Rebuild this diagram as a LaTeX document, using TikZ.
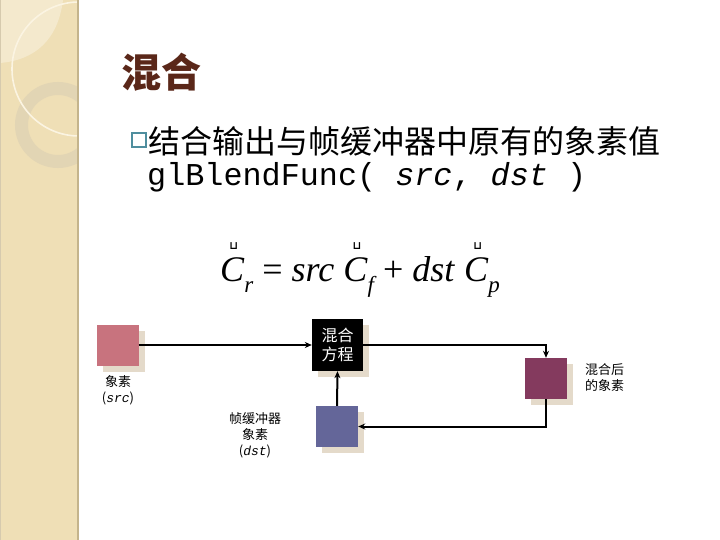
\documentclass[tikz,border=0pt]{standalone}
\usepackage{fontspec}
\setmainfont{Liberation Serif}
\setmonofont{Liberation Mono}
\newfontfamily\cjk{Noto Sans CJK SC}
\newfontfamily\symfam{DejaVu Sans}
\usetikzlibrary{arrows.meta,positioning,shadows}
\definecolor{bandtan}{HTML}{EFDFB6}
\definecolor{bandlight}{HTML}{F4E9CD}
\definecolor{bandedge}{HTML}{C4B48C}
\definecolor{ringtan}{HTML}{E2D5B4}
\definecolor{arcwhite}{HTML}{FBF4E2}
\definecolor{titlebrown}{HTML}{5A2719}
\definecolor{bullteal}{HTML}{4F8E9E}
\definecolor{srcpink}{HTML}{C8737E}
\definecolor{respurple}{HTML}{843A5E}
\definecolor{dstblue}{HTML}{646699}
\definecolor{shadebeige}{HTML}{E4DACA}
% vektor-C med liten krok
\newcommand\vc[1]{\leavevmode\rlap{\hspace{0.26em}\raisebox{0.9em}{\symfam\bfseries\fontsize{11}{11}\selectfont ⊔}}\textit{#1}}
\newcommand\sub[1]{\raisebox{-0.32em}{\fontsize{23}{23}\selectfont\itshape #1}}
\tikzset{
  >={Stealth[length=7pt,width=6pt]},
  % rutor
  pix/.style={minimum width=42pt,minimum height=41pt,inner sep=0pt,
    drop shadow={shadow xshift=6pt,shadow yshift=-6pt,fill=shadebeige,opacity=1}},
  lab/.style={font=\cjk\fontsize{13}{16}\selectfont,align=center,inner sep=0pt},
  flow/.style={->,draw=black,line width=2pt},
}
\begin{document}
\begin{tikzpicture}[x=1pt,y=-1pt]
  \useasboundingbox (0,0) rectangle (720,540);
  % sidband
  \fill[bandtan] (0,0) rectangle (78,540);
  \begin{scope}
    \clip (0,0) rectangle (78,540);
    \fill[bandlight] (0,0) -- (63,0) .. controls (58,40) and (35,60) .. (0,63) -- cycle;
    \draw[ringtan,line width=13pt] (58,125) circle[radius=36.5];
    \draw[arcwhite,line width=1.6pt] (79,69) circle[radius=67];
  \end{scope}
  \draw[bandedge,line width=2pt] (78,0) -- (78,540);
  \draw[bandedge!70,line width=1pt] (0.5,0) -- (0.5,540);
  % rubrik
  \node[anchor=west,inner sep=0pt,text=titlebrown,font=\cjk\bfseries\fontsize{40}{40}\selectfont]
    (title) at (121,72) {混合};
  \node[draw=bullteal,line width=1.4pt,minimum size=14pt,inner sep=0pt] (bull) at (139,140) {};
  \node[anchor=west,inner sep=0pt,font=\cjk\fontsize{32}{32}\selectfont]
    (line1) at (148,141) {结合输出与帧缓冲器中原有的象素值};
  \node[anchor=west,inner sep=0pt,font=\ttfamily\fontsize{31.8}{32}\selectfont]
    (line2) at (147,177) {glBlendFunc( \textit{src}, \textit{dst} )};
  % ekvationen
  \node[inner sep=0pt,font=\fontsize{36}{38}\selectfont] (eq) at (360,270)
    {\vc{C}\sub{r} = \textit{src} \vc{C}\sub{f} + \textit{dst} \vc{C}\sub{p}};
  % blandning
  \node[pix,fill=srcpink] (src) at (117.5,345) {};
  \node[pix,fill=black,minimum width=51pt,minimum height=52pt,text=white,
    font=\cjk\fontsize{16}{19}\selectfont,align=center] (mix) at (337.5,345) {混合\\方程};
  \node[pix,fill=respurple] (res) at (546,378.5) {};
  \node[pix,fill=dstblue] (dst) at (337,426.5) {};
  \node[lab] (srclab) at (118,390) {象素\\(\textit{\ttfamily src})};
  \node[lab,anchor=west] (reslab) at (585,378) {混合后\\的象素};
  \node[lab] (dstlab) at (255,435) {帧缓冲器\\象素\\(\textit{\ttfamily dst})};
  \draw[flow] (src) -- (mix);
  \draw[flow] (mix.east) -| (res.north);
  \draw[flow] (res.south) |- (dst.east);
  \draw[flow] (dst.north) -- (mix.south);
\end{tikzpicture}
\end{document}
